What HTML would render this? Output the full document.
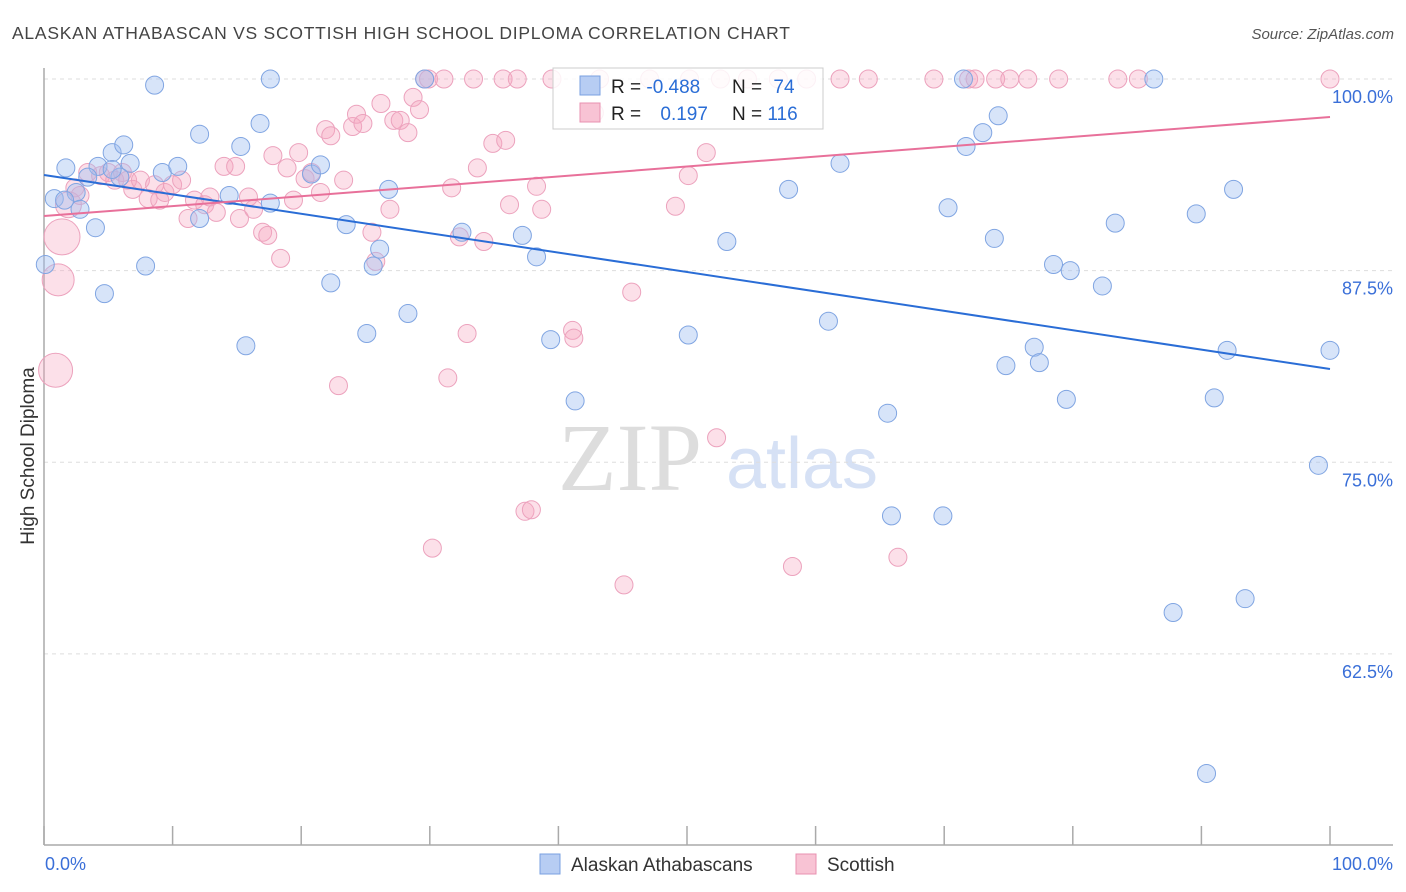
<!DOCTYPE html>
<html><head><meta charset="utf-8"><style>
body{margin:0;background:#fff;font-family:"Liberation Sans",sans-serif;}
svg{display:block}
</style></head><body>
<svg id="chart" width="1406" height="892" viewBox="0 0 1406 892" xmlns="http://www.w3.org/2000/svg">
<text x="12" y="39" font-size="17.5" fill="#444" letter-spacing="0.75" font-family="Liberation Sans, sans-serif">ALASKAN ATHABASCAN VS SCOTTISH HIGH SCHOOL DIPLOMA CORRELATION CHART</text>
<text x="1394" y="39" font-size="15" fill="#555" font-style="italic" text-anchor="end">Source: ZipAtlas.com</text>
<text transform="translate(34,456) rotate(-90)" font-size="19" fill="#333" text-anchor="middle">High School Diploma</text>
<g>
<text x="630" y="490" font-size="96" fill="#ddd" font-family="Liberation Serif, serif" text-anchor="middle">ZIP</text>
<text x="802" y="488" font-size="72" fill="#d6e1f5" text-anchor="middle">atlas</text>
</g>
<g id="grid"></g><g id="axes"></g><g id="pink"></g><g id="blue"></g><g id="lines"></g>
<g>
<rect x="553" y="68" width="270" height="61" fill="#fff" fill-opacity="0.85" stroke="#ccc"/>
<rect x="580" y="76" width="20" height="19" fill="#b7cdf3" stroke="#7aa0e0"/>
<rect x="580" y="103" width="20" height="19" fill="#f8c3d4" stroke="#e890b0"/>
<text x="611" y="93" font-size="19" fill="#222">R = <tspan fill="#2a6dd6">-0.488</tspan></text>
<text x="732" y="93" font-size="19" fill="#222">N = <tspan fill="#2a6dd6" dx="6">74</tspan></text>
<text x="611" y="120" font-size="19" fill="#222">R = <tspan fill="#2a6dd6" dx="14">0.197</tspan></text>
<text x="732" y="120" font-size="19" fill="#222">N = <tspan fill="#2a6dd6">116</tspan></text>
</g>
<g>
<rect x="540" y="854" width="20" height="20" fill="#b7cdf3" stroke="#7aa0e0"/>
<text x="571" y="871" font-size="19" fill="#333">Alaskan Athabascans</text>
<rect x="796" y="854" width="20" height="20" fill="#f8c3d4" stroke="#e890b0"/>
<text x="827" y="871" font-size="19" fill="#333">Scottish</text>
</g>
</svg>
<script>
const yTicks=[100,87.5,75,62.5];
const yTickLabels=["100.0%","87.5%","75.0%","62.5%"];
const xLabels=["0.0%","100.0%"];
const blueX=[8.6,17.6,29.6,71.5,86.3,0.8,1.7,2.5,2.8,4.0,4.2,5.3,6.2,6.7,3.4,5.9,7.9,4.7,9.2,10.4,12.1,12.1,14.4,15.3,16.8,15.7,17.6,20.8,21.5,22.3,23.5,25.1,25.6,26.1,26.8,28.3,32.5,37.2,38.3,39.4,41.3,50.1,53.1,57.9,61.0,61.9,65.6,65.9,69.9,70.3,71.7,73.0,73.9,74.2,74.8,77.0,77.4,78.5,79.5,79.8,82.3,83.3,89.6,90.4,91.0,92.0,92.5,93.4,87.8,99.1,100,0.1,1.6,5.3];
const blueY=[99.6,100,100,100,100,92.2,94.2,92.6,91.5,90.3,94.3,95.2,95.7,94.5,93.6,93.6,87.8,86.0,93.9,94.3,96.4,90.9,92.4,95.6,97.1,82.6,91.9,93.8,94.4,86.7,90.5,83.4,87.8,88.9,92.8,84.7,90.0,89.8,88.4,83.0,79.0,83.3,89.4,92.8,84.2,94.5,78.2,71.5,71.5,91.6,95.6,96.5,89.6,97.6,81.3,82.5,81.5,87.9,79.1,87.5,86.5,90.6,91.2,54.7,79.2,82.3,92.8,66.1,65.2,74.8,82.3,87.9,92.1,94.1];
const pinkX=[29.6,29.9,31.1,33.4,35.7,36.8,39.5,43.2,47.1,50.2,52.6,54.7,57.1,59.3,61.9,64.1,69.2,71.9,72.4,74.0,75.1,76.5,78.9,83.5,85.1,100,
0.9,1.1,1.4,1.9,2.4,2.8,3.4,4.4,5.0,5.5,6.1,6.5,6.9,7.5,8.1,8.6,9.0,9.4,10.0,10.7,11.2,11.7,12.5,12.9,13.4,14.0,14.9,15.2,15.9,16.3,17.0,17.4,18.4,17.8,18.9,19.4,19.8,20.3,20.8,21.5,21.9,22.3,22.9,23.3,24.0,24.3,24.8,25.5,25.8,26.2,26.9,27.2,27.7,28.3,28.7,29.2,30.2,31.4,31.7,32.3,32.9,33.7,34.2,34.9,35.9,36.2,37.4,37.9,38.3,38.7,41.1,41.2,42.8,45.1,45.7,49.1,50.1,51.5,52.3,58.2,66.4];
const pinkY=[100,100,100,100,100,100,100,100,100,100,100,100,100,100,100,100,100,100,100,100,100,100,100,100,100,100,
81.0,86.9,89.7,91.8,92.9,92.4,93.9,93.7,93.9,93.4,93.9,93.4,92.8,93.4,92.2,93.1,92.1,92.6,93.1,93.4,90.9,92.1,91.8,92.3,91.3,94.3,94.3,90.9,92.3,91.5,90.0,89.8,88.3,95.0,94.2,92.1,95.2,93.5,93.9,92.6,96.7,96.3,80.0,93.4,96.9,97.7,97.1,90.0,88.1,98.4,91.5,97.3,97.3,96.5,98.8,98.0,69.4,80.5,92.9,89.7,83.4,94.2,89.4,95.8,96.0,91.8,71.8,71.9,93.0,91.5,83.6,83.1,97.8,67.0,86.1,91.7,93.7,95.2,76.6,68.2,68.8];
const pinkR=[];pinkY.forEach((v,i)=>pinkR.push(i==26?17:i==27?16:i==28?18:i==29?13:9));
const blueTrend=[93.74,81.08];
const pinkTrend=[91.06,97.52];
const NS="http://www.w3.org/2000/svg";
const X0=44,X1=1330;
const xs=v=>X0+(X1-X0)*v/100;
const ys=v=>79+(100-v)*15.33;
function mk(tag,attrs,parent){const e=document.createElementNS(NS,tag);for(const k in attrs)e.setAttribute(k,attrs[k]);document.getElementById(parent).appendChild(e);return e;}
yTicks.forEach((t,i)=>{
 const l=mk('line',{x1:X0,x2:1393,y1:ys(t),y2:ys(t),stroke:'#ddd','stroke-dasharray':'4,4'},'grid');
 
 
 const tx=mk('text',{x:1393,y:ys(t)+24,'font-size':18,fill:'#3a6fd8','text-anchor':'end'},'grid');
 tx.textContent=yTickLabels[i];
 
 
});
const ax=mk('line',{x1:X0,x2:1393,y1:845,y2:845,stroke:'#aaa','stroke-width':1.5},'axes');


const ay=mk('line',{x1:X0,x2:X0,y1:68,y2:845,stroke:'#aaa','stroke-width':1.5},'axes');


for(let i=0;i<=10;i++){const t=mk('line',{x1:xs(i*10),x2:xs(i*10),y1:826,y2:845,stroke:'#aaa','stroke-width':1.5},'axes');
 
 }
const xl0=mk('text',{x:45,y:870,'font-size':18,fill:'#3a6fd8'},'axes');xl0.textContent=xLabels[0];


const xl1=mk('text',{x:1393,y:870,'font-size':18,fill:'#3a6fd8','text-anchor':'end'},'axes');xl1.textContent=xLabels[1];


pinkX.forEach((v,i)=>{const c=mk('circle',{cx:xs(v),cy:ys(pinkY[i]),r:pinkR[i],fill:'rgba(245,165,192,0.35)',stroke:'#eca2bd','stroke-width':1},'pink');
 
 });
blueX.forEach((v,i)=>{const c=mk('circle',{cx:xs(v),cy:ys(blueY[i]),r:9,fill:'rgba(160,190,240,0.42)',stroke:'#80a5e2','stroke-width':1},'blue');
 
 });
const bl=mk('line',{x1:xs(0),x2:xs(100),y1:ys(blueTrend[0]),y2:ys(blueTrend[1]),stroke:'#2a6dd6','stroke-width':2},'lines');


const pl=mk('line',{x1:xs(0),x2:xs(100),y1:ys(pinkTrend[0]),y2:ys(pinkTrend[1]),stroke:'#e8709a','stroke-width':2},'lines');


</script>
</body></html>
